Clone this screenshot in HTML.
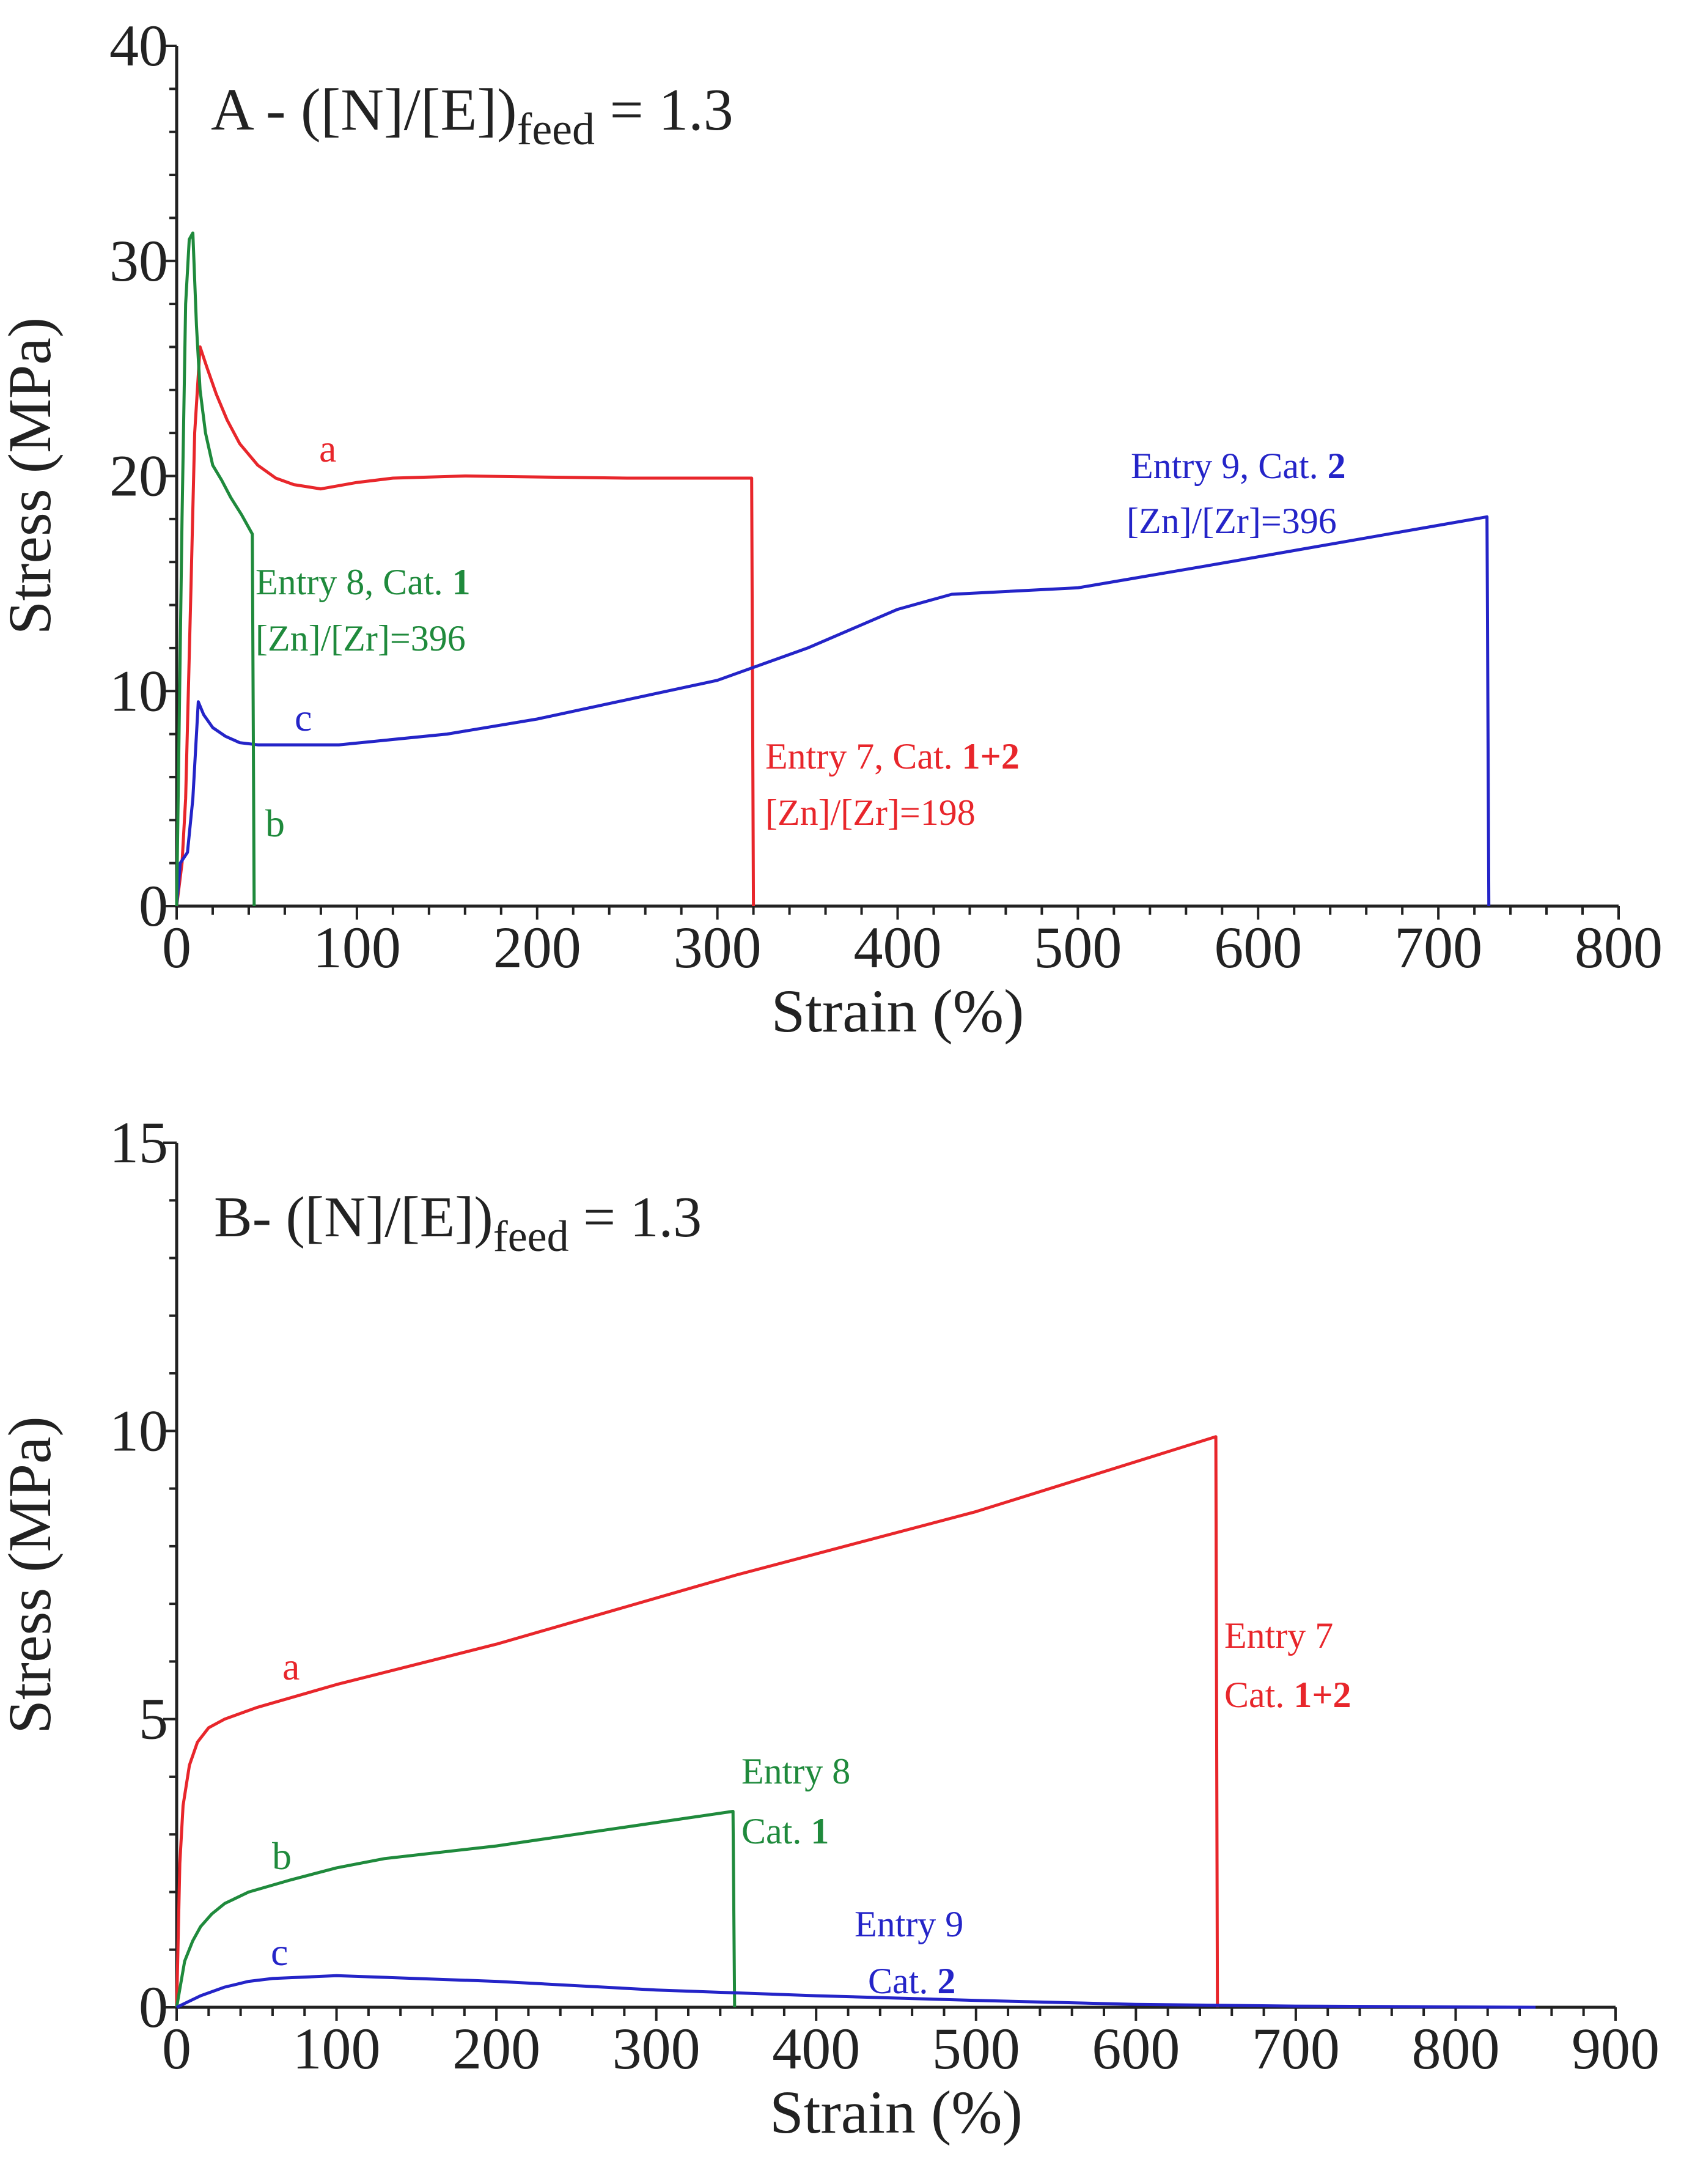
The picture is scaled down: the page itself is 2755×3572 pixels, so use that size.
<!DOCTYPE html>
<html><head><meta charset="utf-8"><style>
html,body{margin:0;padding:0;background:#fff}
svg{display:block}
text{font-family:"Liberation Serif",serif}
</style></head><body>
<svg id="s" width="2755" height="3572" viewBox="0 0 2755 3572">
<g id="A"></g>
<g id="B"></g>
</svg>
<script>
const aCatX=[0,100,200,300,400,500,600,700,800];
const aYTicks=[0,10,20,30,40];
const aRedX=[0,3,5,8,10,13,17,22,28,35,45,55,65,80,100,120,160,250,319,320];
const aRedY=[0,2,5,15,22,26,25,23.8,22.6,21.5,20.5,19.9,19.6,19.4,19.7,19.9,20,19.9,19.9,0];
const aGreenX=[0,3,5,7,9,11,13,16,20,25,30,36,42,43];
const aGreenY=[0,18,28,31,31.3,27,24,22,20.5,19.8,19,18.2,17.3,0];
const aBlueX=[0,2,6,9,12,15,20,27,35,45,90,150,200,300,350,400,430,500,570,727,728];
const aBlueY=[0,2,2.5,5,9.5,8.9,8.3,7.9,7.6,7.5,7.5,8,8.7,10.5,12,13.8,14.5,14.8,15.8,18.1,0];
const bCatX=[0,100,200,300,400,500,600,700,800,900];
const bYTicks=[0,5,10,15];
const bRedX=[0,2,4,8,13,20,30,50,100,200,350,500,650,651];
const bRedY=[0,2.5,3.5,4.2,4.6,4.85,5,5.2,5.6,6.3,7.5,8.6,9.9,0];
const bGreenX=[0,5,10,15,22,30,45,70,100,130,200,348,349];
const bGreenY=[0,0.8,1.15,1.4,1.62,1.8,2.0,2.2,2.42,2.58,2.8,3.4,0];
const bBlueX=[0,15,30,45,60,100,200,300,400,500,600,700,850];
const bBlueY=[0,0.2,0.35,0.45,0.5,0.55,0.45,0.3,0.2,0.12,0.05,0.02,0];

const NS="http://www.w3.org/2000/svg";
function mk(tag,attrs,parent){const e=document.createElementNS(NS,tag);for(const k in attrs)e.setAttribute(k,attrs[k]);parent.appendChild(e);return e;}
function txt(parent,x,y,size,fill,html,anchor){const t=mk('text',{x:x,y:y,'font-size':size,fill:fill,'text-anchor':anchor||'start'},parent);t.innerHTML=html;return t;}

function panel(g,cfg){
  const sx=v=>cfg.x0+(v-cfg.xmin)/(cfg.xmax-cfg.xmin)*(cfg.x1-cfg.x0);
  const sy=v=>cfg.y0+(v-cfg.ymin)/(cfg.ymax-cfg.ymin)*(cfg.y1-cfg.y0);
  const ax=mk('path',{d:`M${cfg.x0},${cfg.y1}V${cfg.y0}H${cfg.x1}`,stroke:'#222','stroke-width':5,fill:'none'},g);
  
  
  for(let v=cfg.xmin;v<=cfg.xmax+1e-9;v+=cfg.xminor){
    const major=Math.abs(v/cfg.xmajor-Math.round(v/cfg.xmajor))<1e-6;
    const t=mk('line',{x1:sx(v),x2:sx(v),y1:cfg.y0,y2:cfg.y0+(major?22:14),stroke:'#222','stroke-width':4},g);
    
    
  }
  for(let v=cfg.ymin;v<=cfg.ymax+1e-9;v+=cfg.yminor){
    const major=Math.abs(v/cfg.ymajor-Math.round(v/cfg.ymajor))<1e-6;
    const t=mk('line',{x1:cfg.x0-(major?22:12),x2:cfg.x0,y1:sy(v),y2:sy(v),stroke:'#222','stroke-width':4},g);
    
    
  }
  cfg.xt.forEach(v=>{const t=txt(g,sx(v),cfg.y0+100,96,'#222',String(v),'middle');
    
    });
  cfg.yt.forEach(v=>{const t=txt(g,cfg.x0-14,sy(v)+32,96,'#222',String(v),'end');
    
    });
  const xl=txt(g,(cfg.x0+cfg.x1)/2,cfg.y0+205,100,'#222','Strain (%)','middle');
  
  
  const yx=82,yy=(cfg.y0+cfg.y1)/2;
  const yl=txt(g,yx,yy,100,'#222','Stress (MPa)','middle');
  yl.setAttribute('transform',`rotate(-90 ${yx} ${yy})`);
  
  
  cfg.series.forEach(s=>{
    const d=s.x.map((v,i)=>(i?'L':'M')+sx(v).toFixed(1)+','+sy(s.y[i]).toFixed(1)).join('');
    const p=mk('path',{d:d,stroke:s.c,'stroke-width':5,fill:'none','stroke-linejoin':'round'},g);
    
    
  });
}

const RED='#e8262b',GREEN='#1f8a3c',BLUE='#2424c8';
const A=document.getElementById('A'),B=document.getElementById('B');
panel(A,{x0:289,x1:2648,y0:1482,y1:75,xmin:0,xmax:800,ymin:0,ymax:40,xminor:20,xmajor:100,yminor:2,ymajor:10,xt:aCatX,yt:aYTicks,
 series:[{x:aRedX,y:aRedY,c:RED,n:'series-a-red'},{x:aBlueX,y:aBlueY,c:BLUE,n:'series-c-blue'},{x:aGreenX,y:aGreenY,c:GREEN,n:'series-b-green'}]});
panel(B,{x0:289,x1:2643,y0:3283,y1:1869,xmin:0,xmax:900,ymin:0,ymax:15,xminor:20,xmajor:100,yminor:1,ymajor:5,xt:bCatX,yt:bYTicks,
 series:[{x:bRedX,y:bRedY,c:RED,n:'series-a-red'},{x:bGreenX,y:bGreenY,c:GREEN,n:'series-b-green'},{x:bBlueX,y:bBlueY,c:BLUE,n:'series-c-blue'}]});

function lab(g,x,y,s,c,h,n){const t=txt(g,x,y,s,c,h);
 
 }
lab(A,345,212,98,'#222','A - ([N]/[E])<tspan font-size="74" dy="24">feed</tspan><tspan dy="-24"> = 1.3</tspan>','panel-a-title');
lab(A,522,755,64,RED,'a','label-a');
lab(A,482,1195,64,BLUE,'c','label-c');
lab(A,434,1368,64,GREEN,'b','label-b');
lab(A,418,972,60,GREEN,'Entry 8, Cat. <tspan font-weight="bold">1</tspan>','entry-8-label');
lab(A,418,1064,60,GREEN,'[Zn]/[Zr]=396','entry-8-ratio');
lab(A,1252,1257,60,RED,'Entry 7, Cat. <tspan font-weight="bold">1+2</tspan>','entry-7-label');
lab(A,1252,1349,60,RED,'[Zn]/[Zr]=198','entry-7-ratio');
lab(A,1850,782,60,BLUE,'Entry 9, Cat. <tspan font-weight="bold">2</tspan>','entry-9-label');
lab(A,1843,872,60,BLUE,'[Zn]/[Zr]=396','entry-9-ratio');
lab(B,350,2022,94,'#222','B- ([N]/[E])<tspan font-size="72" dy="24">feed</tspan><tspan dy="-24"> = 1.3</tspan>','panel-b-title');
lab(B,462,2747,64,RED,'a','label-a');
lab(B,445,3057,64,GREEN,'b','label-b');
lab(B,443,3214,64,BLUE,'c','label-c');
lab(B,2003,2695,60,RED,'Entry 7','entry-7-label');
lab(B,2003,2792,60,RED,'Cat. <tspan font-weight="bold">1+2</tspan>','entry-7-cat');
lab(B,1213,2917,60,GREEN,'Entry 8','entry-8-label');
lab(B,1213,3015,60,GREEN,'Cat. <tspan font-weight="bold">1</tspan>','entry-8-cat');
lab(B,1398,3167,60,BLUE,'Entry 9','entry-9-label');
lab(B,1420,3260,60,BLUE,'Cat. <tspan font-weight="bold">2</tspan>','entry-9-cat');
</script>
</body></html>
